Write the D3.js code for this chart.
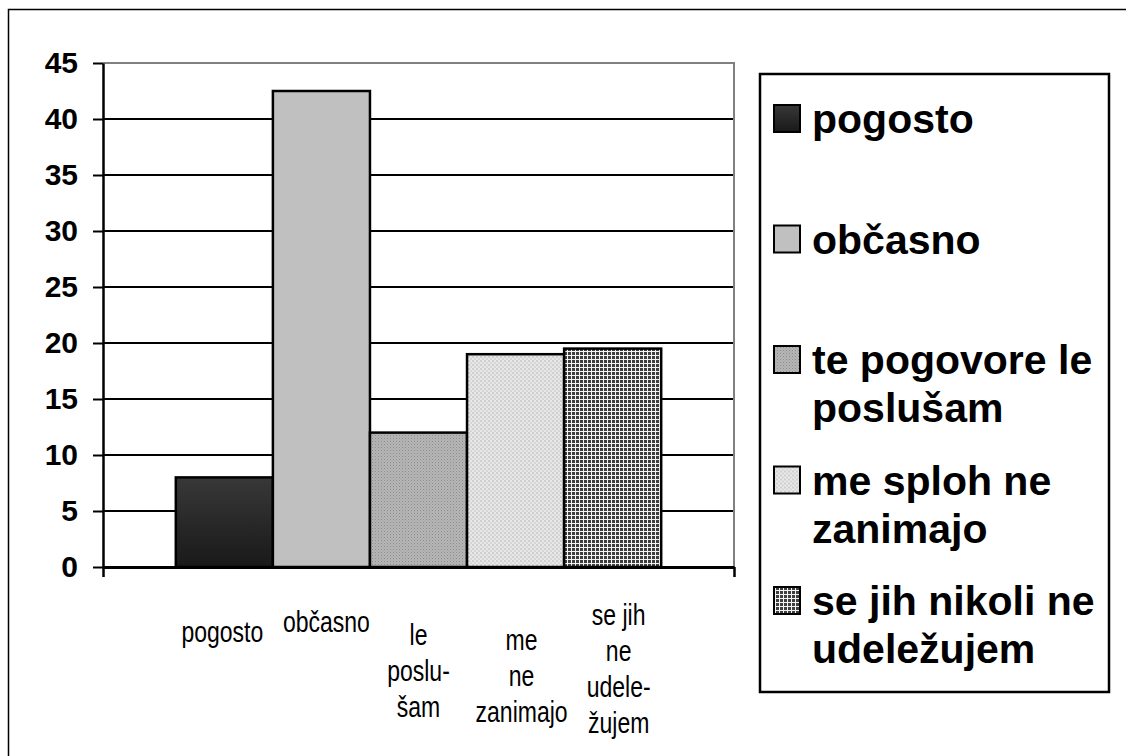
<!DOCTYPE html>
<html>
<head>
<meta charset="utf-8">
<script src="https://d3js.org/d3.v7.min.js"></script>
<style>
  body { margin: 0; background: #fff; }
  svg { display: block; font-family: "Liberation Sans", Arial, sans-serif; }
</style>
</head>
<body>
<svg width="1126" height="756"></svg>
<script>
// data
let categories = ["pogosto", "občasno", "le poslušam", "me ne zanimajo", "se jih ne udeležujem"];
let values = [8, 42.5, 12, 19, 19.5];
let axisLabels = [["pogosto"], ["občasno"], ["le", "poslu-", "šam"], ["me", "ne", "zanimajo"], ["se jih", "ne", "udele-", "žujem"]];
let legendLabels = [["pogosto"], ["občasno"], ["te pogovore le", "poslušam"], ["me sploh ne", "zanimajo"], ["se jih nikoli ne", "udeležujem"]];
let yTicks = [0, 5, 10, 15, 20, 25, 30, 35, 40, 45];

let svg = d3.select("svg");

let plot = { left: 103, right: 734, top: 63, bottom: 567 };

// fills
let defs = svg.append("defs");

let grad = defs.append("linearGradient")
    .attr("id", "f0").attr("x1", 0).attr("y1", 0).attr("x2", 0).attr("y2", 1);
grad.append("stop").attr("offset", "0%").attr("stop-color", "#383838");
grad.append("stop").attr("offset", "100%").attr("stop-color", "#191919");

let p2 = defs.append("pattern").attr("id", "f2")
    .attr("patternUnits", "userSpaceOnUse").attr("width", 3).attr("height", 3);
p2.append("rect").attr("width", 3).attr("height", 3).attr("fill", "#b6b6b6");
p2.append("rect").attr("width", 1).attr("height", 1).attr("fill", "#8c8c8c");
p2.append("rect").attr("x", 1.5).attr("y", 1.5).attr("width", 1).attr("height", 1).attr("fill", "#9a9a9a");

let p3 = defs.append("pattern").attr("id", "f3")
    .attr("patternUnits", "userSpaceOnUse").attr("width", 4).attr("height", 4);
p3.append("rect").attr("width", 4).attr("height", 4).attr("fill", "#e8e8e8");
p3.append("rect").attr("width", 2).attr("height", 2).attr("fill", "#cfcfcf");
p3.append("rect").attr("x", 2).attr("y", 2).attr("width", 2).attr("height", 2).attr("fill", "#d6d6d6");

let p4 = defs.append("pattern").attr("id", "f4")
    .attr("patternUnits", "userSpaceOnUse").attr("width", 4).attr("height", 4);
p4.append("rect").attr("width", 4).attr("height", 4).attr("fill", "#f4f4f4");
p4.append("rect").attr("width", 3).attr("height", 3).attr("fill", "#3e3e3e");

let fills = ["url(#f0)", "#c0c0c0", "url(#f2)", "url(#f3)", "url(#f4)"];

// outer border (only top/left are in the picture)
svg.append("path")
    .attr("d", "M8.5,760V9.5H1130")
    .attr("fill", "none")
    .attr("stroke", "#000")
    .attr("stroke-width", 1.5);

// scales
let x = d3.scaleBand()
    .domain(categories)
    .range([plot.left, plot.right])
    .paddingInner(0)
    .paddingOuter(0.75);

let y = d3.scaleLinear()
    .domain([0, 45])
    .range([plot.bottom, plot.top]);

// gridlines
svg.append("g")
    .selectAll("line")
    .data(yTicks.filter(d => d > 0 && d < 45))
    .enter().append("line")
    .attr("x1", plot.left).attr("x2", plot.right)
    .attr("y1", d => y(d)).attr("y2", d => y(d))
    .attr("stroke", "#000")
    .attr("stroke-width", 2);

// plot area border top/right (grey)
svg.append("path")
    .attr("d", "M" + plot.left + "," + y(45) + "H" + plot.right + "V" + plot.bottom)
    .attr("fill", "none")
    .attr("stroke", "#808080")
    .attr("stroke-width", 2);

// bars
svg.append("g")
    .selectAll("rect")
    .data(values)
    .enter().append("rect")
    .attr("x", (d, i) => x(categories[i]))
    .attr("y", d => y(d))
    .attr("width", x.bandwidth())
    .attr("height", d => y(0) - y(d))
    .attr("fill", (d, i) => fills[i])
    .attr("stroke", "#000")
    .attr("stroke-width", 2.5);

// y axis
let yAxis = svg.append("g")
    .attr("transform", "translate(" + plot.left + ",0)")
    .call(d3.axisLeft(y).tickValues(yTicks).tickSize(10).tickSizeOuter(0).tickPadding(15));
yAxis.select(".domain").attr("stroke-width", 2.5);
yAxis.selectAll(".tick line").attr("stroke-width", 2);
yAxis.selectAll(".tick text")
    .attr("font-family", "Liberation Sans, Arial, sans-serif")
    .attr("font-size", 30)
    .attr("font-weight", "bold")
    .attr("fill", "#000");

// x axis
let xAxis = svg.append("g")
    .attr("transform", "translate(0," + plot.bottom + ")")
    .call(d3.axisBottom(d3.scaleLinear().domain([0, 1]).range([plot.left, plot.right]))
        .tickValues([0, 1]).tickFormat("").tickSize(10).tickSizeOuter(0));
xAxis.select(".domain").attr("stroke-width", 3);
xAxis.selectAll(".tick line").attr("stroke-width", 2.5);

// category labels under the bars (text boxes, a bit stretched vertically)
let firstBaseline = [642, 632, 645, 650, 625];
let labelShift = [-2, 5, 0, 6, 6];
let stretch = 1.28;
svg.append("g")
    .selectAll("text")
    .data(axisLabels)
    .enter().append("text")
    .attr("transform", (d, i) => "translate(" + (x(categories[i]) + x.bandwidth() / 2 + labelShift[i]) + "," + firstBaseline[i] + ") scale(1," + stretch + ")")
    .attr("text-anchor", "middle")
    .attr("font-size", 23)
    .attr("fill", "#000")
    .each(function(d) {
      let t = d3.select(this);
      d.forEach(function(line, j) {
        t.append("tspan")
          .attr("x", 0)
          .attr("dy", j === 0 ? 0 : 36 / stretch)
          .text(line);
      });
    });

// legend
let legend = svg.append("g");
legend.append("rect")
    .attr("x", 760).attr("y", 74)
    .attr("width", 349).attr("height", 618)
    .attr("fill", "#fff")
    .attr("stroke", "#000")
    .attr("stroke-width", 2.5);

let legendBaseline = d3.scaleLinear().domain([0, 4]).range([133, 615]);

let item = legend.selectAll("g.item")
    .data(legendLabels)
    .enter().append("g")
    .attr("class", "item")
    .attr("transform", (d, i) => "translate(0," + legendBaseline(i) + ")");

item.append("rect")
    .attr("x", 774).attr("y", -28)
    .attr("width", 26).attr("height", 27)
    .attr("fill", (d, i) => fills[i])
    .attr("stroke", "#000")
    .attr("stroke-width", 2);

item.append("text")
    .attr("x", 812)
    .attr("font-size", 41)
    .attr("font-weight", "bold")
    .attr("fill", "#000")
    .each(function(d) {
      let t = d3.select(this);
      d.forEach(function(line, j) {
        t.append("tspan")
          .attr("x", 812)
          .attr("dy", j === 0 ? 0 : 48)
          .text(line);
      });
    });
</script>
</body>
</html>
